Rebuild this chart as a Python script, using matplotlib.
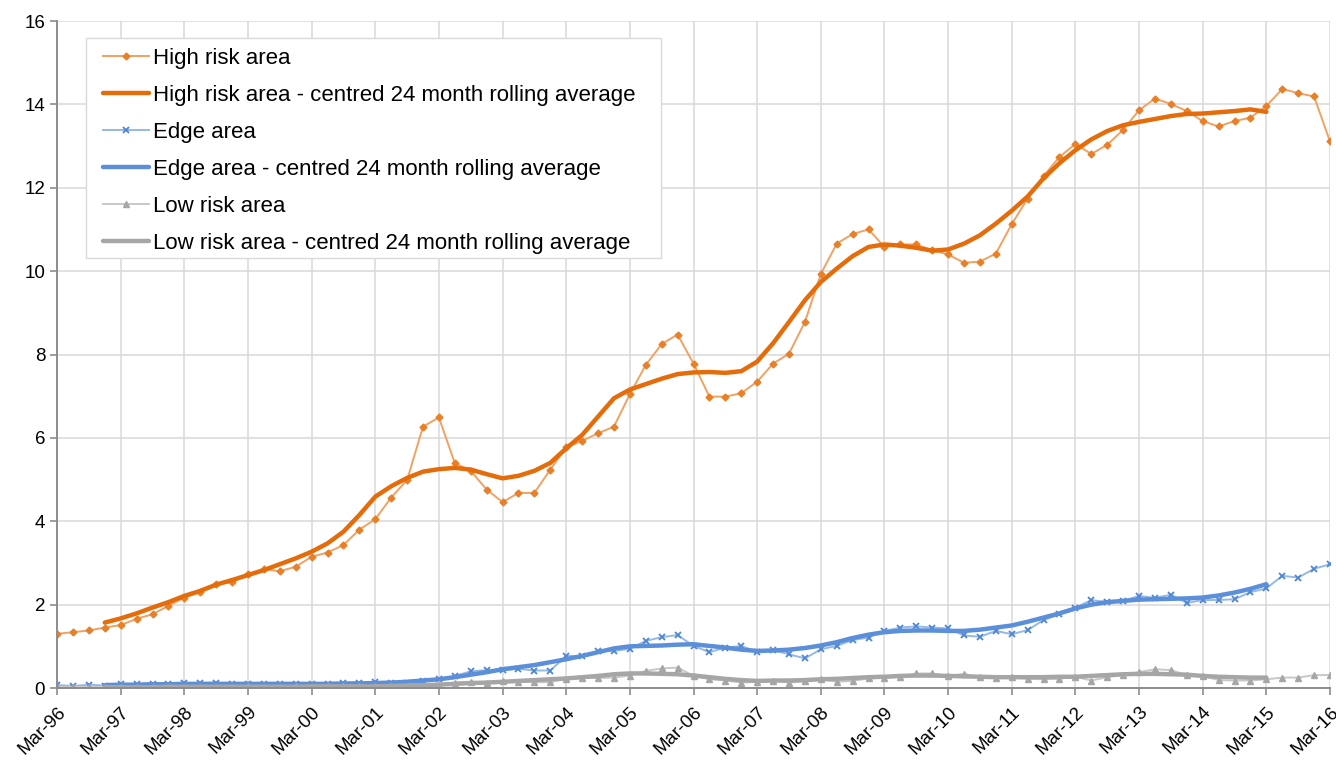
import matplotlib
matplotlib.use("Agg")
import matplotlib.pyplot as plt
from matplotlib.patches import Rectangle
import numpy as np

plt.rcParams["font.family"] = ["Liberation Sans", "DejaVu Sans"]

# Quarterly series, Mar-96 .. Mar-16 (81 quarters)
high_risk = [1.30, 1.34, 1.38, 1.45, 1.51, 1.66, 1.77, 1.97, 2.17, 2.30,
             2.49, 2.54, 2.73, 2.85, 2.80, 2.91, 3.15, 3.25, 3.43, 3.80,
             4.05, 4.57, 4.99, 6.27, 6.49, 5.39, 5.21, 4.76, 4.46, 4.68,
             4.68, 5.24, 5.77, 5.93, 6.11, 6.27, 7.05, 7.75, 8.25, 8.48,
             7.78, 6.99, 6.99, 7.07, 7.35, 7.78, 8.02, 8.78, 9.93, 10.66,
             10.89, 11.00, 10.58, 10.64, 10.64, 10.50, 10.40, 10.20, 10.23, 10.42,
             11.13, 11.74, 12.28, 12.74, 13.05, 12.81, 13.03, 13.39, 13.86, 14.14,
             14.01, 13.84, 13.60, 13.47, 13.60, 13.68, 13.96, 14.37, 14.27, 14.19,
             13.11]
edge = [0.07, 0.05, 0.08, 0.06, 0.09, 0.10, 0.10, 0.10, 0.11, 0.12,
        0.13, 0.10, 0.10, 0.09, 0.09, 0.09, 0.10, 0.10, 0.11, 0.13,
        0.14, 0.11, 0.13, 0.17, 0.21, 0.29, 0.40, 0.43, 0.43, 0.46,
        0.42, 0.42, 0.77, 0.77, 0.89, 0.89, 0.94, 1.13, 1.22, 1.27,
        1.01, 0.86, 0.97, 1.01, 0.87, 0.91, 0.81, 0.71, 0.93, 1.01,
        1.15, 1.21, 1.37, 1.45, 1.48, 1.45, 1.43, 1.26, 1.23, 1.37,
        1.29, 1.39, 1.63, 1.77, 1.93, 2.11, 2.06, 2.09, 2.21, 2.16,
        2.24, 2.04, 2.11, 2.11, 2.13, 2.30, 2.39, 2.69, 2.65, 2.86,
        2.97]
low_risk = [0.03, 0.02, 0.03, 0.02, 0.03, 0.02, 0.02, 0.02, 0.03, 0.03,
            0.02, 0.03, 0.04, 0.03, 0.03, 0.04, 0.03, 0.04, 0.05, 0.04,
            0.05, 0.04, 0.05, 0.06, 0.07, 0.13, 0.15, 0.13, 0.16, 0.15,
            0.14, 0.14, 0.22, 0.24, 0.24, 0.25, 0.30, 0.41, 0.47, 0.49,
            0.29, 0.21, 0.18, 0.13, 0.15, 0.18, 0.13, 0.16, 0.21, 0.15,
            0.17, 0.23, 0.25, 0.27, 0.35, 0.35, 0.29, 0.34, 0.26, 0.24,
            0.26, 0.22, 0.21, 0.22, 0.27, 0.18, 0.26, 0.31, 0.38, 0.45,
            0.43, 0.31, 0.29, 0.19, 0.18, 0.18, 0.21, 0.25, 0.25, 0.31,
            0.31]

# Centred 24 month rolling averages, quarter 3 (Dec-96) .. quarter 76 (Mar-15)
avg_start = 3
high_avg = [1.57, 1.67, 1.79, 1.93, 2.06, 2.21, 2.33, 2.48, 2.59, 2.71,
            2.83, 2.97, 3.11, 3.27, 3.47, 3.75, 4.15, 4.59, 4.84, 5.04,
            5.19, 5.25, 5.28, 5.24, 5.13, 5.03, 5.09, 5.21, 5.40, 5.75,
            6.07, 6.51, 6.95, 7.16, 7.29, 7.42, 7.53, 7.57, 7.58, 7.56,
            7.60, 7.83, 8.27, 8.78, 9.30, 9.74, 10.06, 10.36, 10.58, 10.64,
            10.61, 10.56, 10.49, 10.52, 10.66, 10.86, 11.14, 11.45, 11.79, 12.23,
            12.59, 12.90, 13.16, 13.36, 13.50, 13.58, 13.65, 13.72, 13.77, 13.78,
            13.81, 13.84, 13.88, 13.82]
edge_avg = [0.07, 0.08, 0.08, 0.09, 0.09, 0.10, 0.10, 0.10, 0.10, 0.10,
            0.10, 0.10, 0.10, 0.10, 0.10, 0.11, 0.11, 0.12, 0.13, 0.15,
            0.18, 0.21, 0.26, 0.32, 0.38, 0.45, 0.50, 0.55, 0.62, 0.69,
            0.77, 0.86, 0.95, 1.00, 1.01, 1.02, 1.04, 1.05, 1.01, 0.97,
            0.92, 0.89, 0.90, 0.92, 0.96, 1.02, 1.10, 1.20, 1.28, 1.34,
            1.37, 1.38, 1.38, 1.37, 1.37, 1.40, 1.45, 1.50, 1.59, 1.69,
            1.79, 1.91, 2.00, 2.06, 2.09, 2.12, 2.13, 2.14, 2.15, 2.17,
            2.22, 2.29, 2.38, 2.49]
low_avg = [0.02, 0.02, 0.02, 0.02, 0.03, 0.03, 0.03, 0.03, 0.03, 0.03,
           0.03, 0.03, 0.03, 0.04, 0.04, 0.04, 0.04, 0.04, 0.05, 0.06,
           0.07, 0.08, 0.10, 0.12, 0.13, 0.15, 0.17, 0.19, 0.21, 0.23,
           0.26, 0.29, 0.33, 0.35, 0.35, 0.34, 0.33, 0.30, 0.26, 0.22,
           0.19, 0.17, 0.18, 0.18, 0.19, 0.21, 0.22, 0.24, 0.26, 0.27,
           0.29, 0.30, 0.30, 0.29, 0.28, 0.27, 0.26, 0.26, 0.26, 0.26,
           0.27, 0.27, 0.29, 0.31, 0.33, 0.34, 0.34, 0.33, 0.32, 0.29,
           0.27, 0.26, 0.25, 0.25]

year_labels = ["Mar-%02d" % (y % 100) for y in range(1996, 2017)]

ORANGE_LT, ORANGE = "#F0A262", "#E46C0A"
BLUE_LT, BLUE = "#95B9E6", "#5B8FD9"
GREY_LT, GREY = "#C8C8C8", "#A6A6A6"

x = np.arange(len(high_risk))
xa = np.arange(avg_start, avg_start + len(high_avg))

fig = plt.figure(figsize=(13.36, 7.61), dpi=100)
ax = fig.add_axes([0.0427, 0.0959, 0.9528, 0.8765])

ax.plot(x, high_risk, color=ORANGE_LT, lw=1.4, marker="D", ms=3.5,
        mfc="#E8802A", mec="#E8802A", label="High risk area")
ax.plot(xa, high_avg, color=ORANGE, lw=3.2, solid_capstyle="round",
        label="High risk area - centred 24 month rolling average")
ax.plot(x, edge, color=BLUE_LT, lw=1.4, marker="x", ms=4.5, mew=1.3,
        mec="#4F86D3", label="Edge area")
ax.plot(xa, edge_avg, color=BLUE, lw=3.2, solid_capstyle="round",
        label="Edge area - centred 24 month rolling average")
ax.plot(x, low_risk, color=GREY_LT, lw=1.4, marker="^", ms=4,
        mfc="#A6A6A6", mec="#A6A6A6", label="Low risk area")
ax.plot(xa, low_avg, color=GREY, lw=3.2, solid_capstyle="round",
        label="Low risk area - centred 24 month rolling average")

ax.set_xlim(0, len(high_risk) - 1)
ax.set_ylim(0, 16)
ax.set_yticks(np.arange(0, 17, 2))
ax.set_xticks(np.arange(0, len(high_risk), 4))
ax.set_xticklabels(year_labels, rotation=45, ha="right", va="top",
                   rotation_mode="anchor")
ax.tick_params(axis="both", labelsize=13.5, colors="#000000",
               direction="out", length=5, width=1.2)
ax.tick_params(axis="both", color="#8C8C8C")
ax.tick_params(axis="x", pad=6)

ax.grid(True, color="#D9D9D9", lw=1.1)
ax.set_axisbelow(True)
for s in ("top", "right"):
    ax.spines[s].set_visible(False)
for s in ("left", "bottom"):
    ax.spines[s].set_color("#8C8C8C")
    ax.spines[s].set_linewidth(1.4)
    ax.spines[s].set_zorder(5)

# legend box drawn separately so its padding can be wider than the text
ax.add_patch(Rectangle((0.0228, 0.6447), 0.4517, 0.3298, transform=ax.transAxes,
                       facecolor="white", edgecolor="#D9D9D9", lw=1.0, zorder=4))
leg = ax.legend(loc="upper left", bbox_to_anchor=(0.0291, 0.973),
                fontsize=16, frameon=False, numpoints=1, handlelength=2.07,
                handletextpad=0.18, labelspacing=0.72, borderpad=0.4,
                borderaxespad=0)
leg.set_zorder(6)

fig.savefig("out.png", dpi=100, facecolor="white")
